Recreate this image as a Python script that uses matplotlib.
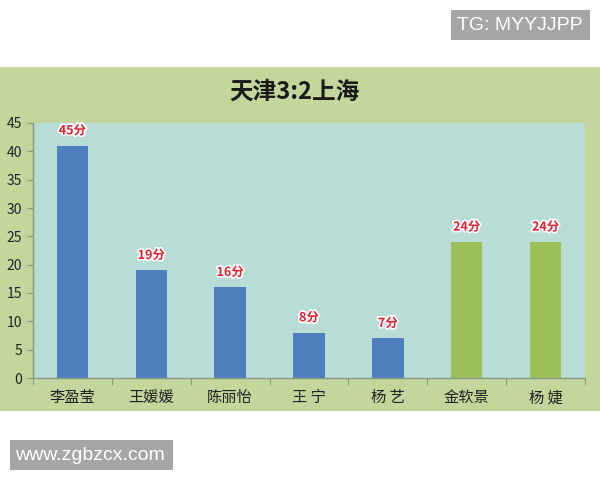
import numpy as np
from matplotlib import pyplot as plt
from matplotlib.patches import Rectangle
import matplotlib.patheffects as pe

plt.rcParams['font.family'] = ['Noto Sans CJK SC', 'DejaVu Sans']

players = ["李盈莹", "王媛媛", "陈丽怡", "王 宁", "杨 艺", "金软景", "杨 婕"]
scores = [41, 19, 16, 8, 7, 24, 24]
score_labels = ["45分", "19分", "16分", "8分", "7分", "24分", "24分"]
team = ["天津", "天津", "天津", "天津", "天津", "上海", "上海"]
title = "天津3:2上海"

team_colors = {"天津": "#4f7fbe", "上海": "#9bbf59"}

fig = plt.figure(figsize=(6, 4.8), dpi=100)
fig.patch.set_facecolor("white")

# green panel behind the chart
fig.patches.append(Rectangle((0, 1 - 411 / 480), 1, (411 - 67) / 480,
                             transform=fig.transFigure, facecolor="#c3d69b",
                             edgecolor="none", zorder=-1))

ax = fig.add_axes([33 / 600, 1 - 378 / 480, (585 - 33) / 600, (378 - 123) / 480])
ax.set_zorder(2)
ax.set_facecolor("#b8dcd6")

x = np.arange(len(players))
bar_colors = [team_colors[t] for t in team]
ax.bar(x, scores, width=0.4, color=bar_colors, zorder=2)

for xi, yi, lab in zip(x, scores, score_labels):
    ax.annotate(lab, (xi, yi), textcoords="offset points", xytext=(0, 6),
                ha="center", va="bottom", fontsize=9, fontweight="bold",
                color="#e02030",
                path_effects=[pe.withStroke(linewidth=2.5, foreground="white")])

ax.set_xlim(-0.5, len(players) - 0.5)
ax.set_ylim(0, 45)
ax.set_yticks(np.arange(0, 46, 5))
ax.set_xticks(np.arange(-0.5, len(players), 1.0))
ax.set_xticklabels([])
ax.set_xticks(x, minor=True)
ax.set_xticklabels(players, minor=True)
ax.tick_params(axis="x", which="minor", length=0, pad=8, labelsize=11, labelcolor="#222222")
ax.tick_params(axis="x", which="major", length=5, color="#8a9a80", direction="out")
ax.tick_params(axis="y", length=4, color="#8a9a80", labelsize=10, labelcolor="#222222", pad=4)

for side in ["top", "right"]:
    ax.spines[side].set_visible(False)
for side in ["left", "bottom"]:
    ax.spines[side].set_color("#8a9a80")
    ax.spines[side].set_linewidth(1)

fig.text(0.49, 1 - 92 / 480, title, ha="center", va="center", fontsize=17,
         fontweight="bold", color="#1a1a1a")

# watermarks
fig.patches.append(Rectangle((451 / 600, 1 - 40 / 480), (590 - 451) / 600, 30 / 480,
                             transform=fig.transFigure, facecolor="#a6a6a6",
                             edgecolor="none", zorder=1))
fig.text(457 / 600, 1 - 25 / 480, "TG: MYYJJPP", ha="left", va="center",
         fontsize=14, color="white", family="Liberation Sans", zorder=3)
fig.patches.append(Rectangle((10 / 600, 1 - 470 / 480), (173 - 10) / 600, 30 / 480,
                             transform=fig.transFigure, facecolor="#a6a6a6",
                             edgecolor="none", zorder=1))
fig.text(15 / 600, 1 - 455 / 480, "www.zgbzcx.com", ha="left", va="center",
         fontsize=14, color="white", family="Liberation Sans", zorder=3)

fig.savefig("out.png", dpi=100)
